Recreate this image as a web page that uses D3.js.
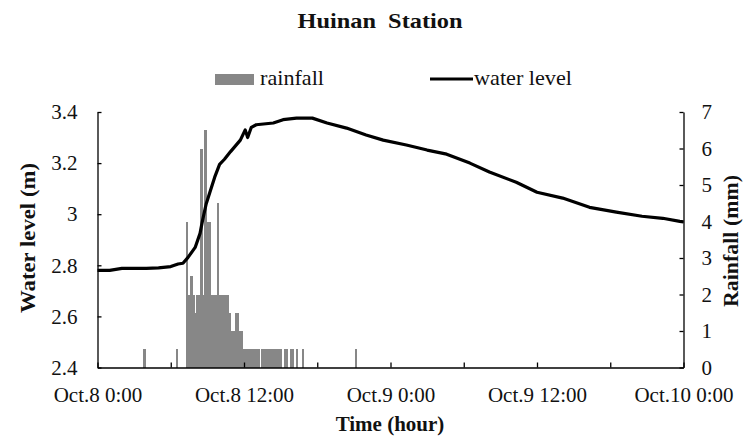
<!DOCTYPE html>
<html>
<head>
<meta charset="utf-8">
<script src="https://cdn.jsdelivr.net/npm/d3@7"></script>
<style>
  html, body { margin: 0; padding: 0; background: #fff; }
  svg { display: block; }
  text { font-family: "Liberation Serif", "Times New Roman", serif; fill: #111; }
</style>
</head>
<body>
<svg id="chart" width="743" height="441"></svg>
<script>
// ---------- data ----------
// water level (m), time in hours after Oct.8 0:00
const levelHours = [0, 1, 2, 4, 5, 6, 6.6, 7.0, 7.4, 8.0, 8.4, 8.6, 8.9, 9.2, 9.6, 10.0, 10.4, 10.9, 11.7, 12.1, 12.3, 12.6, 13.0, 14.4, 15.2, 16.3, 17.6, 18.8, 20.4, 22.0, 23.4, 25.3, 27.0, 28.6, 30.5, 32.1, 34.3, 36.0, 38.1, 40.3, 42.5, 44.6, 46.3, 47.7, 48];
const levelValues = [2.78, 2.78, 2.788, 2.788, 2.79, 2.795, 2.805, 2.808, 2.83, 2.87, 2.925, 2.975, 3.04, 3.085, 3.145, 3.195, 3.215, 3.245, 3.29, 3.33, 3.30, 3.34, 3.35, 3.357, 3.37, 3.376, 3.376, 3.357, 3.337, 3.31, 3.29, 3.271, 3.251, 3.235, 3.2, 3.165, 3.125, 3.086, 3.063, 3.027, 3.008, 2.992, 2.984, 2.972, 2.97];

// rainfall (mm) per 10-minute interval, time label = interval centre on Oct.8
const rainTimes = ["3:50", "6:30", "7:20", "7:30", "7:40", "7:50", "8:00", "8:10", "8:20", "8:30", "8:40", "8:50", "9:00", "9:10", "9:20", "9:30", "9:40", "9:50", "10:00", "10:10", "10:20", "10:30", "10:40", "10:50", "11:00", "11:10", "11:20", "11:30", "11:40", "11:50", "12:00", "12:10", "12:20", "12:30", "12:40", "12:50", "13:00", "13:10", "13:30", "13:40", "13:50", "14:00", "14:10", "14:20", "14:30", "14:40", "14:50", "15:00", "15:20", "15:30", "15:50", "16:00", "16:20", "16:50", "21:10"];
const rainValues = [0.5, 0.5, 4.0, 2.0, 2.5, 2.0, 1.5, 2.0, 2.0, 6.0, 2.0, 6.5, 4.0, 4.0, 2.0, 2.0, 2.0, 4.5, 2.0, 2.0, 2.0, 2.0, 2.0, 1.5, 1.0, 1.0, 1.5, 1.5, 1.0, 1.0, 0.5, 0.5, 0.5, 0.5, 0.5, 0.5, 0.5, 0.5, 0.5, 0.5, 0.5, 0.5, 0.5, 0.5, 0.5, 0.5, 0.5, 0.5, 0.5, 0.5, 0.5, 0.5, 0.5, 0.5, 0.5];

const xTickHours = [0, 6, 12, 18, 24, 30, 36, 42, 48];
const xTickLabels = {0: "Oct.8 0:00", 12: "Oct.8 12:00", 24: "Oct.9 0:00", 36: "Oct.9 12:00", 48: "Oct.10 0:00"};
const levelTicks = [2.4, 2.6, 2.8, 3.0, 3.2, 3.4];
const levelTickLabels = ["2.4", "2.6", "2.8", "3", "3.2", "3.4"];
const rainTicks = [0, 1, 2, 3, 4, 5, 6, 7];

const titleText = "Huinan  Station";
const legendNames = ["rainfall", "water level"];

// ---------- layout ----------
const svg = d3.select("#chart");
const L = 97.5, R = 683.5, T = 112, B = 367.5;
const x = d3.scaleLinear().domain([0, 48]).range([L, R]);
const yL = d3.scaleLinear().domain([2.4, 3.4]).range([B, T]);
const yR = d3.scaleLinear().domain([0, 7]).range([B, T]);
const toHours = s => { const [h, m] = s.split(":").map(Number); return h + m / 60; };
const halfBin = 5 / 60;
const barColor = "#878787";

// rainfall bars
svg.append("g").attr("shape-rendering", "crispEdges").selectAll("rect")
  .data(rainTimes.map((t, i) => ({ h: toHours(t), v: rainValues[i] })))
  .join("rect")
  .attr("x", d => x(d.h - halfBin))
  .attr("width", d => x(d.h + halfBin) - x(d.h - halfBin) + 0.4)
  .attr("y", d => yR(d.v))
  .attr("height", d => yR(0) - yR(d.v))
  .attr("fill", barColor);

// water level line
const line = d3.line().x((d, i) => x(levelHours[i])).y(d => yL(d));
svg.append("path")
  .datum(levelValues)
  .attr("d", line)
  .attr("fill", "none")
  .attr("stroke", "#000")
  .attr("stroke-width", 3.2)
  .attr("stroke-linejoin", "round");

// axes
const fs = "21px";
const gL = svg.append("g").attr("transform", `translate(${L},0)`)
  .call(d3.axisLeft(yL).tickValues(levelTicks).tickFormat((d, i) => levelTickLabels[i])
    .tickSizeInner(-4).tickSizeOuter(0).tickPadding(20));
const gR = svg.append("g").attr("transform", `translate(${R},0)`)
  .call(d3.axisRight(yR).tickValues(rainTicks).tickFormat(d3.format("d"))
    .tickSizeInner(-4).tickSizeOuter(0).tickPadding(18));
const gB = svg.append("g").attr("transform", `translate(0,${B})`)
  .call(d3.axisBottom(x).tickValues(xTickHours).tickFormat(d => xTickLabels[d] || "")
    .tickSizeInner(-5).tickSizeOuter(0).tickPadding(19.5));
[gL, gR, gB].forEach(g => {
  g.attr("font-family", null);
  g.selectAll("text").style("font-family", '"Liberation Serif", "Times New Roman", serif')
    .style("font-size", fs).attr("fill", "#111");
  g.selectAll("path,line").attr("stroke", "#000").attr("stroke-width", 1.3);
});

// title
svg.append("text").attr("x", 380).attr("y", 28).attr("text-anchor", "middle")
  .style("white-space", "pre").style("font-weight", "bold").style("font-size", "22px")
  .attr("textLength", 165).attr("lengthAdjust", "spacingAndGlyphs")
  .text(titleText);

// legend
svg.append("rect").attr("x", 215).attr("y", 74).attr("width", 39).attr("height", 11).attr("fill", barColor);
svg.append("text").attr("x", 260).attr("y", 85).style("font-size", fs)
  .attr("textLength", 64).attr("lengthAdjust", "spacingAndGlyphs").text(legendNames[0]);
svg.append("line").attr("x1", 430).attr("x2", 473).attr("y1", 79).attr("y2", 79)
  .attr("stroke", "#000").attr("stroke-width", 3.2);
svg.append("text").attr("x", 474).attr("y", 85).style("font-size", fs)
  .attr("textLength", 98).attr("lengthAdjust", "spacingAndGlyphs").text(legendNames[1]);

// axis titles
svg.append("text").attr("transform", "translate(35,238) rotate(-90)").attr("text-anchor", "middle")
  .style("font-weight", "bold").style("font-size", "21px")
  .attr("textLength", 150).attr("lengthAdjust", "spacingAndGlyphs")
  .text("Water level (m)");
svg.append("text").attr("transform", "translate(738,241) rotate(-90)").attr("text-anchor", "middle")
  .style("font-weight", "bold").style("font-size", "20px")
  .attr("textLength", 132).attr("lengthAdjust", "spacingAndGlyphs")
  .text("Rainfall (mm)");
svg.append("text").attr("x", 390).attr("y", 431).attr("text-anchor", "middle")
  .style("font-weight", "bold").style("font-size", "21px")
  .text("Time (hour)");
</script>
</body>
</html>
